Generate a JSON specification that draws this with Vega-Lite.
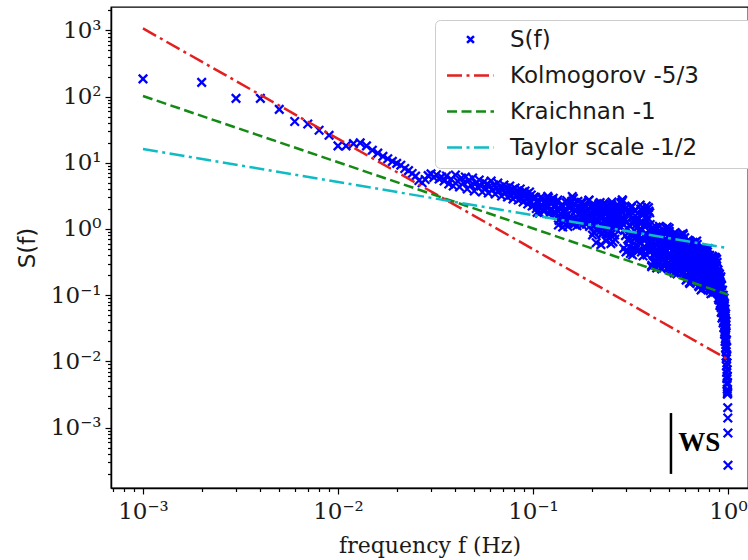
{
"$schema": "https://vega.github.io/schema/vega-lite/v6.json",
"width": 637, "height": 481,
"autosize": {"type": "none"},
"padding": {"left": 111, "top": 7, "right": 0, "bottom": 72},
"background": "white",
"config": {"view": {"stroke": "#000000", "strokeWidth": 1.3}},
"datasets": {
"spec": [
{"f":0.001,"s":185},{"f":0.002,"s":164},{"f":0.003,"s":94},{"f":0.004,"s":94},{"f":0.005,"s":64},{"f":0.006,"s":42},{"f":0.007,"s":38.5},{"f":0.008,"s":31},{"f":0.009,"s":26},{"f":0.010,"s":18},
{"f":0.011,"s":18},{"f":0.012,"s":19.5},{"f":0.013,"s":20},{"f":0.014,"s":18},{"f":0.015,"s":15.5},{"f":0.016,"s":14},{"f":0.017,"s":12.5},{"f":0.018,"s":11.5},{"f":0.019,"s":10.5},{"f":0.020,"s":9.8},
{"f":0.021,"s":9.2},{"f":0.022,"s":8.2},{"f":0.023,"s":7.6},{"f":0.024,"s":6.9},{"f":0.025,"s":6.3},{"f":0.026,"s":5.4},{"f":0.027,"s":5.0},{"f":0.028,"s":5.6},{"f":0.029,"s":6.4},{"f":0.030,"s":6.8},
{"f":0.031,"s":6.0},{"f":0.032,"s":6.6},{"f":0.033,"s":5.7},{"f":0.034,"s":6.1},{"f":0.035,"s":5.3},{"f":0.036,"s":6.31},{"f":0.037,"s":4.78},{"f":0.038,"s":5.69},{"f":0.039,"s":4.46},{"f":0.040,"s":6.54},
{"f":0.041,"s":5.31},{"f":0.042,"s":4.31},{"f":0.043,"s":5.89},{"f":0.044,"s":4.95},{"f":0.045,"s":6.10},{"f":0.046,"s":4.02},{"f":0.047,"s":5.50},{"f":0.048,"s":4.62},{"f":0.049,"s":5.89},{"f":0.050,"s":3.75},
{"f":0.051,"s":4.95},{"f":0.052,"s":4.31},{"f":0.053,"s":5.50},{"f":0.054,"s":4.46},{"f":0.055,"s":3.62},{"f":0.056,"s":5.13},{"f":0.057,"s":4.16},{"f":0.058,"s":4.78},{"f":0.059,"s":3.50},{"f":0.060,"s":4.46},
{"f":0.061,"s":5.31},{"f":0.062,"s":3.88},{"f":0.063,"s":4.62},{"f":0.064,"s":3.38},{"f":0.065,"s":4.16},{"f":0.066,"s":4.95},{"f":0.067,"s":3.75},{"f":0.068,"s":4.31},{"f":0.069,"s":3.15},{"f":0.070,"s":4.02},
{"f":0.071,"s":4.62},{"f":0.072,"s":3.50},{"f":0.073,"s":4.16},{"f":0.074,"s":3.04},{"f":0.075,"s":3.75},{"f":0.076,"s":4.46},{"f":0.077,"s":3.26},{"f":0.078,"s":3.88},{"f":0.079,"s":2.84},{"f":0.080,"s":3.50},
{"f":0.081,"s":4.16},{"f":0.082,"s":3.15},{"f":0.083,"s":3.75},{"f":0.084,"s":2.74},{"f":0.085,"s":3.38},{"f":0.086,"s":4.02},{"f":0.087,"s":2.94},{"f":0.088,"s":3.50},{"f":0.089,"s":2.56},{"f":0.090,"s":3.15},
{"f":0.091,"s":3.75},{"f":0.092,"s":2.84},{"f":0.093,"s":3.38},{"f":0.094,"s":2.38},{"f":0.095,"s":3.04},{"f":0.096,"s":3.62},{"f":0.097,"s":2.65},{"f":0.098,"s":3.26},{"f":0.099,"s":2.22},{"f":0.100,"s":2.94},
{"f":0.102,"s":2.87},{"f":0.104,"s":2.04},{"f":0.106,"s":2.45},{"f":0.108,"s":1.74},{"f":0.110,"s":3.05},{"f":0.112,"s":2.24},{"f":0.114,"s":1.86},{"f":0.116,"s":2.61},{"f":0.118,"s":2.10},{"f":0.120,"s":2.96},
{"f":0.122,"s":1.92},{"f":0.124,"s":2.38},{"f":0.126,"s":2.70},{"f":0.128,"s":1.80},{"f":0.130,"s":2.17},
{"f":0.101,"s":2.31},{"f":0.103,"s":3.00},{"f":0.105,"s":1.78},{"f":0.107,"s":2.56},{"f":0.109,"s":2.08},{"f":0.111,"s":2.82},{"f":0.113,"s":1.89},{"f":0.115,"s":2.42},{"f":0.117,"s":2.19},{"f":0.119,"s":3.11},
{"f":0.121,"s":1.71},{"f":0.123,"s":2.70},{"f":0.125,"s":1.97},{"f":0.127,"s":2.92},{"f":0.129,"s":1.82},
{"f":0.132,"s":1.97},{"f":0.134,"s":2.74},{"f":0.136,"s":1.35},{"f":0.138,"s":1.71},{"f":0.140,"s":2.27},{"f":0.142,"s":1.07},{"f":0.144,"s":1.88},{"f":0.146,"s":1.42},{"f":0.148,"s":2.49},{"f":0.150,"s":1.63},
{"f":0.152,"s":1.23},{"f":0.154,"s":2.07},{"f":0.156,"s":1.56},{"f":0.158,"s":2.61},{"f":0.159,"s":3.1},{"f":0.160,"s":1.18},{"f":0.161,"s":2.9},{"f":0.162,"s":2.38},{"f":0.164,"s":1.42},{"f":0.166,"s":1.88},{"f":0.168,"s":1.12},{"f":0.170,"s":2.61},
{"f":0.172,"s":1.63},{"f":0.174,"s":1.23},{"f":0.176,"s":2.07},{"f":0.178,"s":1.49},{"f":0.180,"s":2.49},{"f":0.182,"s":1.29},{"f":0.184,"s":1.79},{"f":0.186,"s":2.17},{"f":0.188,"s":1.18},{"f":0.190,"s":1.56},
{"f":0.192,"s":1.97},{"f":0.194,"s":2.74},{"f":0.196,"s":1.35},{"f":0.198,"s":1.71},{"f":0.200,"s":2.27},
{"f":0.131,"s":1.71},{"f":0.133,"s":2.54},{"f":0.135,"s":1.15},{"f":0.137,"s":2.01},{"f":0.139,"s":1.46},{"f":0.141,"s":2.31},{"f":0.143,"s":1.27},{"f":0.145,"s":1.85},{"f":0.147,"s":1.59},{"f":0.149,"s":2.69},
{"f":0.151,"s":1.09},{"f":0.153,"s":2.17},{"f":0.155,"s":1.35},{"f":0.157,"s":2.45},{"f":0.163,"s":1.20},{"f":0.165,"s":1.92},{"f":0.167,"s":1.53},{"f":0.169,"s":2.10},{"f":0.171,"s":1.39},{"f":0.173,"s":1.74},
{"f":0.175,"s":1.71},{"f":0.177,"s":2.54},{"f":0.179,"s":1.15},{"f":0.181,"s":2.01},{"f":0.183,"s":1.46},{"f":0.185,"s":2.31},{"f":0.187,"s":1.27},{"f":0.189,"s":1.85},{"f":0.191,"s":1.59},{"f":0.193,"s":2.69},
{"f":0.195,"s":1.09},{"f":0.197,"s":2.17},{"f":0.199,"s":1.35},
{"f":0.202,"s":0.810},{"f":0.204,"s":1.62},{"f":0.206,"s":1.14},{"f":0.208,"s":2.28},{"f":0.210,"s":1.36},{"f":0.211,"s":0.62},{"f":0.212,"s":0.962},{"f":0.214,"s":1.81},{"f":0.216,"s":1.28},{"f":0.218,"s":2.42},{"f":0.220,"s":0.908},
{"f":0.222,"s":2.15},{"f":0.223,"s":0.58},{"f":0.224,"s":1.14},{"f":0.226,"s":1.62},{"f":0.228,"s":0.858},{"f":0.230,"s":2.42},{"f":0.232,"s":1.36},{"f":0.234,"s":0.962},{"f":0.236,"s":1.81},{"f":0.237,"s":0.66},{"f":0.238,"s":1.21},{"f":0.240,"s":2.28},
{"f":0.242,"s":1.02},{"f":0.244,"s":1.52},{"f":0.245,"s":0.74},{"f":0.246,"s":1.92},{"f":0.248,"s":0.908},{"f":0.250,"s":1.28},{"f":0.251,"s":0.60},{"f":0.252,"s":1.71},{"f":0.254,"s":2.56},{"f":0.256,"s":1.08},{"f":0.257,"s":0.64},{"f":0.258,"s":1.44},{"f":0.260,"s":2.03},
{"f":0.262,"s":0.810},{"f":0.263,"s":0.70},{"f":0.264,"s":1.62},{"f":0.266,"s":1.14},{"f":0.268,"s":2.28},{"f":0.270,"s":1.36},
{"f":0.201,"s":1.44},{"f":0.203,"s":2.33},{"f":0.205,"s":0.888},{"f":0.207,"s":1.75},{"f":0.209,"s":1.18},{"f":0.213,"s":2.08},{"f":0.215,"s":0.996},{"f":0.217,"s":1.58},{"f":0.219,"s":1.31},{"f":0.221,"s":2.50},
{"f":0.225,"s":0.829},{"f":0.227,"s":1.92},{"f":0.229,"s":1.08},{"f":0.231,"s":2.23},{"f":0.233,"s":0.929},{"f":0.235,"s":1.65},{"f":0.239,"s":1.25},{"f":0.241,"s":1.85},{"f":0.243,"s":1.12},{"f":0.247,"s":1.47},
{"f":0.249,"s":1.44},{"f":0.253,"s":2.33},{"f":0.255,"s":0.888},{"f":0.259,"s":1.75},{"f":0.261,"s":1.18},{"f":0.265,"s":2.08},{"f":0.267,"s":0.996},{"f":0.269,"s":1.58},
{"f":0.272,"s":1.9},{"f":0.274,"s":1.35},{"f":0.276,"s":2.2},{"f":0.278,"s":1.1},{"f":0.280,"s":1.6},{"f":0.282,"s":2.45},{"f":0.284,"s":1.25},{"f":0.286,"s":1.8},{"f":0.288,"s":2.7},{"f":0.290,"s":1.45},
{"f":0.271,"s":2.3},{"f":0.273,"s":1.7},{"f":0.275,"s":1.15},{"f":0.277,"s":2.0},{"f":0.279,"s":1.4},{"f":0.281,"s":1.05},{"f":0.283,"s":1.95},{"f":0.285,"s":2.55},{"f":0.287,"s":2.75},{"f":0.289,"s":1.2},
{"f":0.292,"s":0.510},{"f":0.295,"s":1.35},{"f":0.298,"s":0.794},{"f":0.301,"s":2.10},{"f":0.304,"s":0.467},{"f":0.307,"s":1.76},{"f":0.310,"s":0.665},{"f":0.313,"s":1.13},{"f":0.316,"s":0.427},{"f":0.319,"s":2.10},
{"f":0.322,"s":0.868},{"f":0.325,"s":0.510},{"f":0.328,"s":1.35},{"f":0.331,"s":0.726},{"f":0.334,"s":1.93},{"f":0.337,"s":0.557},{"f":0.340,"s":1.04},{"f":0.343,"s":1.48},{"f":0.346,"s":0.467},{"f":0.349,"s":0.794},
{"f":0.352,"s":1.24},{"f":0.355,"s":2.30},{"f":0.358,"s":0.609},{"f":0.361,"s":0.948},{"f":0.364,"s":1.61},{"f":0.367,"s":0.391},{"f":0.370,"s":1.13},{"f":0.373,"s":0.665},{"f":0.376,"s":1.93},{"f":0.379,"s":0.868},
{"f":0.382,"s":0.510},{"f":0.385,"s":1.35},{"f":0.388,"s":0.794},{"f":0.391,"s":2.10},{"f":0.394,"s":0.467},{"f":0.397,"s":1.76},{"f":0.400,"s":0.665},
{"f":0.294,"s":0.948},{"f":0.297,"s":2.00},{"f":0.300,"s":0.450},{"f":0.303,"s":1.28},{"f":0.306,"s":0.701},{"f":0.309,"s":1.67},{"f":0.312,"s":0.538},{"f":0.315,"s":1.09},{"f":0.318,"s":0.822},{"f":0.321,"s":2.22},
{"f":0.324,"s":0.405},{"f":0.327,"s":1.48},{"f":0.330,"s":0.609},{"f":0.333,"s":1.86},{"f":0.336,"s":0.483},{"f":0.339,"s":1.17},{"f":0.342,"s":0.766},{"f":0.345,"s":1.40},{"f":0.348,"s":0.642},{"f":0.351,"s":0.982},
{"f":0.354,"s":0.948},{"f":0.357,"s":2.00},{"f":0.360,"s":0.450},{"f":0.363,"s":1.28},{"f":0.366,"s":0.701},{"f":0.369,"s":1.67},{"f":0.372,"s":0.538},{"f":0.375,"s":1.09},{"f":0.378,"s":0.822},{"f":0.381,"s":2.22},
{"f":0.384,"s":0.405},{"f":0.387,"s":1.48},{"f":0.390,"s":0.609},{"f":0.393,"s":1.86},{"f":0.396,"s":0.483},{"f":0.399,"s":1.17},
{"f":0.403,"s":0.608},{"f":0.406,"s":0.270},{"f":0.409,"s":1.02},{"f":0.412,"s":0.487},{"f":0.415,"s":0.312},{"f":0.418,"s":0.705},{"f":0.421,"s":0.420},{"f":0.424,"s":0.948},{"f":0.427,"s":0.336},{"f":0.430,"s":0.565},
{"f":0.433,"s":0.760},{"f":0.436,"s":0.290},{"f":0.439,"s":0.452},{"f":0.442,"s":0.655},{"f":0.445,"s":1.10},{"f":0.448,"s":0.362},{"f":0.451,"s":0.525},{"f":0.454,"s":0.818},{"f":0.457,"s":0.250},{"f":0.460,"s":0.608},
{"f":0.463,"s":0.390},{"f":0.466,"s":0.948},{"f":0.469,"s":0.487},{"f":0.472,"s":0.312},{"f":0.475,"s":0.705},{"f":0.478,"s":0.452},{"f":0.481,"s":1.02},{"f":0.484,"s":0.290},{"f":0.487,"s":0.881},{"f":0.490,"s":0.390},
{"f":0.493,"s":0.608},{"f":0.496,"s":0.270},{"f":0.499,"s":1.02},
{"f":0.401,"s":0.525},{"f":0.404,"s":0.977},{"f":0.407,"s":0.282},{"f":0.410,"s":0.675},{"f":0.413,"s":0.408},{"f":0.416,"s":0.842},{"f":0.419,"s":0.327},{"f":0.422,"s":0.591},{"f":0.425,"s":0.466},{"f":0.428,"s":1.07},
{"f":0.431,"s":0.258},{"f":0.434,"s":0.760},{"f":0.437,"s":0.362},{"f":0.440,"s":0.921},{"f":0.443,"s":0.299},{"f":0.446,"s":0.627},{"f":0.449,"s":0.439},{"f":0.452,"s":0.727},{"f":0.455,"s":0.379},{"f":0.458,"s":0.540},
{"f":0.461,"s":0.525},{"f":0.464,"s":0.977},{"f":0.467,"s":0.282},{"f":0.470,"s":0.675},{"f":0.473,"s":0.408},{"f":0.476,"s":0.842},{"f":0.479,"s":0.327},{"f":0.482,"s":0.591},{"f":0.485,"s":0.466},{"f":0.488,"s":1.07},
{"f":0.491,"s":0.258},{"f":0.494,"s":0.760},{"f":0.497,"s":0.362},{"f":0.500,"s":0.921},
{"f":0.503,"s":0.400},{"f":0.506,"s":0.260},{"f":0.509,"s":0.572},{"f":0.512,"s":0.347},{"f":0.515,"s":0.762},{"f":0.518,"s":0.279},{"f":0.521,"s":0.462},{"f":0.524,"s":0.615},{"f":0.527,"s":0.242},{"f":0.530,"s":0.372},
{"f":0.533,"s":0.533},{"f":0.536,"s":0.880},{"f":0.539,"s":0.300},{"f":0.542,"s":0.430},{"f":0.545,"s":0.661},{"f":0.548,"s":0.210},{"f":0.551,"s":0.496},{"f":0.554,"s":0.323},{"f":0.557,"s":0.762},{"f":0.560,"s":0.400},
{"f":0.563,"s":0.260},{"f":0.566,"s":0.572},{"f":0.569,"s":0.372},{"f":0.572,"s":0.819},{"f":0.575,"s":0.242},{"f":0.578,"s":0.709},{"f":0.581,"s":0.323},{"f":0.584,"s":0.496},{"f":0.587,"s":0.225},{"f":0.590,"s":0.819},
{"f":0.593,"s":0.400},{"f":0.596,"s":0.260},{"f":0.599,"s":0.572},
{"f":0.501,"s":0.430},{"f":0.504,"s":0.785},{"f":0.507,"s":0.236},{"f":0.510,"s":0.549},{"f":0.513,"s":0.337},{"f":0.516,"s":0.680},{"f":0.519,"s":0.272},{"f":0.522,"s":0.482},{"f":0.525,"s":0.383},{"f":0.528,"s":0.855},
{"f":0.531,"s":0.216},{"f":0.534,"s":0.615},{"f":0.537,"s":0.300},{"f":0.540,"s":0.741},{"f":0.543,"s":0.250},{"f":0.546,"s":0.510},{"f":0.549,"s":0.362},{"f":0.552,"s":0.589},{"f":0.555,"s":0.314},{"f":0.558,"s":0.442},
{"f":0.561,"s":0.430},{"f":0.564,"s":0.785},{"f":0.567,"s":0.236},{"f":0.570,"s":0.549},{"f":0.573,"s":0.337},{"f":0.576,"s":0.680},{"f":0.579,"s":0.272},{"f":0.582,"s":0.482},{"f":0.585,"s":0.383},{"f":0.588,"s":0.855},
{"f":0.591,"s":0.216},{"f":0.594,"s":0.615},{"f":0.597,"s":0.300},{"f":0.600,"s":0.741},
{"f":0.602,"s":0.255},{"f":0.605,"s":0.585},{"f":0.608,"s":0.203},{"f":0.611,"s":0.345},{"f":0.614,"s":0.466},{"f":0.617,"s":0.175},{"f":0.620,"s":0.275},{"f":0.623,"s":0.401},{"f":0.626,"s":0.680},{"f":0.629,"s":0.219},
{"f":0.632,"s":0.320},{"f":0.635,"s":0.503},{"f":0.638,"s":0.150},{"f":0.641,"s":0.372},{"f":0.644,"s":0.236},{"f":0.647,"s":0.585},{"f":0.650,"s":0.296},{"f":0.653,"s":0.189},{"f":0.656,"s":0.432},{"f":0.659,"s":0.275},
{"f":0.662,"s":0.630},{"f":0.665,"s":0.175},{"f":0.668,"s":0.542},{"f":0.671,"s":0.236},{"f":0.674,"s":0.372},{"f":0.677,"s":0.162},{"f":0.680,"s":0.630},{"f":0.683,"s":0.296},{"f":0.686,"s":0.189},{"f":0.689,"s":0.432},
{"f":0.692,"s":0.255},{"f":0.695,"s":0.585},{"f":0.698,"s":0.203},{"f":0.701,"s":0.345},
{"f":0.604,"s":0.320},{"f":0.607,"s":0.603},{"f":0.610,"s":0.169},{"f":0.613,"s":0.413},{"f":0.616,"s":0.247},{"f":0.619,"s":0.518},{"f":0.622,"s":0.197},{"f":0.625,"s":0.360},{"f":0.628,"s":0.283},{"f":0.631,"s":0.660},
{"f":0.634,"s":0.155},{"f":0.637,"s":0.466},{"f":0.640,"s":0.219},{"f":0.643,"s":0.567},{"f":0.646,"s":0.180},{"f":0.649,"s":0.383},{"f":0.652,"s":0.267},{"f":0.655,"s":0.445},{"f":0.658,"s":0.229},{"f":0.661,"s":0.329},
{"f":0.664,"s":0.320},{"f":0.667,"s":0.603},{"f":0.670,"s":0.169},{"f":0.673,"s":0.413},{"f":0.676,"s":0.247},{"f":0.679,"s":0.518},{"f":0.682,"s":0.197},{"f":0.685,"s":0.360},{"f":0.688,"s":0.283},{"f":0.691,"s":0.660},
{"f":0.694,"s":0.155},{"f":0.697,"s":0.466},{"f":0.700,"s":0.219},
{"f":0.704,"s":0.360},{"f":0.707,"s":0.139},{"f":0.710,"s":0.216},{"f":0.713,"s":0.311},{"f":0.716,"s":0.520},{"f":0.719,"s":0.173},{"f":0.722,"s":0.250},{"f":0.725,"s":0.388},{"f":0.728,"s":0.120},{"f":0.731,"s":0.289},
{"f":0.734,"s":0.186},{"f":0.737,"s":0.449},{"f":0.740,"s":0.232},{"f":0.743,"s":0.149},{"f":0.746,"s":0.335},{"f":0.749,"s":0.216},{"f":0.752,"s":0.483},{"f":0.755,"s":0.139},{"f":0.758,"s":0.417},{"f":0.761,"s":0.186},
{"f":0.764,"s":0.289},{"f":0.767,"s":0.129},{"f":0.770,"s":0.483},{"f":0.773,"s":0.232},{"f":0.776,"s":0.149},{"f":0.779,"s":0.335},{"f":0.782,"s":0.200},{"f":0.785,"s":0.449},{"f":0.788,"s":0.161},{"f":0.791,"s":0.269},
{"f":0.794,"s":0.360},{"f":0.797,"s":0.139},{"f":0.800,"s":0.216},
{"f":0.705,"s":0.250},{"f":0.708,"s":0.462},{"f":0.711,"s":0.135},{"f":0.714,"s":0.321},{"f":0.717,"s":0.195},{"f":0.720,"s":0.399},{"f":0.723,"s":0.156},{"f":0.726,"s":0.281},{"f":0.729,"s":0.222},{"f":0.732,"s":0.505},
{"f":0.735,"s":0.124},{"f":0.738,"s":0.360},{"f":0.741,"s":0.173},{"f":0.744,"s":0.436},{"f":0.747,"s":0.143},{"f":0.750,"s":0.298},{"f":0.753,"s":0.210},{"f":0.756,"s":0.345},{"f":0.759,"s":0.181},{"f":0.762,"s":0.257},
{"f":0.765,"s":0.250},{"f":0.768,"s":0.462},{"f":0.771,"s":0.135},{"f":0.774,"s":0.321},{"f":0.777,"s":0.195},{"f":0.780,"s":0.399},{"f":0.783,"s":0.156},{"f":0.786,"s":0.281},{"f":0.789,"s":0.222},{"f":0.792,"s":0.505},
{"f":0.795,"s":0.124},{"f":0.798,"s":0.360},
{"f":0.803,"s":0.250},{"f":0.806,"s":0.400},{"f":0.809,"s":0.147},{"f":0.812,"s":0.205},{"f":0.815,"s":0.306},{"f":0.818,"s":0.105},{"f":0.821,"s":0.234},{"f":0.824,"s":0.157},{"f":0.827,"s":0.350},{"f":0.830,"s":0.192},
{"f":0.833,"s":0.128},{"f":0.836,"s":0.268},{"f":0.839,"s":0.179},{"f":0.842,"s":0.374},{"f":0.845,"s":0.120},{"f":0.848,"s":0.327},{"f":0.851,"s":0.157},{"f":0.854,"s":0.234},{"f":0.857,"s":0.112},{"f":0.860,"s":0.374},
{"f":0.863,"s":0.192},{"f":0.866,"s":0.128},{"f":0.869,"s":0.268},{"f":0.872,"s":0.168},{"f":0.875,"s":0.350},{"f":0.878,"s":0.137},{"f":0.881,"s":0.219},
{"f":0.804,"s":0.205},{"f":0.807,"s":0.359},{"f":0.810,"s":0.117},{"f":0.813,"s":0.257},{"f":0.816,"s":0.163},{"f":0.819,"s":0.314},{"f":0.822,"s":0.134},{"f":0.825,"s":0.228},{"f":0.828,"s":0.184},{"f":0.831,"s":0.389},
{"f":0.834,"s":0.108},{"f":0.837,"s":0.286},{"f":0.840,"s":0.147},{"f":0.843,"s":0.341},{"f":0.846,"s":0.123},{"f":0.849,"s":0.241},{"f":0.852,"s":0.175},{"f":0.855,"s":0.275},{"f":0.858,"s":0.153},{"f":0.861,"s":0.210},
{"f":0.864,"s":0.205},{"f":0.867,"s":0.359},{"f":0.870,"s":0.117},{"f":0.873,"s":0.257},{"f":0.876,"s":0.163},{"f":0.879,"s":0.314},
{"f":0.883,"s":0.20},{"f":0.886,"s":0.15},{"f":0.889,"s":0.24},{"f":0.892,"s":0.11},{"f":0.895,"s":0.18},{"f":0.898,"s":0.085},{"f":0.901,"s":0.13},{"f":0.904,"s":0.21},{"f":0.907,"s":0.095},{"f":0.910,"s":0.16},
{"f":0.913,"s":0.075},{"f":0.916,"s":0.12},{"f":0.919,"s":0.19},{"f":0.922,"s":0.065},{"f":0.925,"s":0.10},{"f":0.928,"s":0.14},{"f":0.931,"s":0.055},{"f":0.934,"s":0.085},{"f":0.937,"s":0.12},{"f":0.940,"s":0.047},
{"f":0.943,"s":0.07},{"f":0.946,"s":0.10},{"f":0.949,"s":0.04},{"f":0.952,"s":0.062},{"f":0.955,"s":0.09},{"f":0.957,"s":0.033},{"f":0.959,"s":0.05},{"f":0.961,"s":0.075},{"f":0.963,"s":0.028},{"f":0.965,"s":0.042},
{"f":0.884,"s":0.17},{"f":0.887,"s":0.12},{"f":0.890,"s":0.22},{"f":0.893,"s":0.09},{"f":0.896,"s":0.14},{"f":0.899,"s":0.2},{"f":0.902,"s":0.1},{"f":0.905,"s":0.16},{"f":0.908,"s":0.07},{"f":0.911,"s":0.12},
{"f":0.914,"s":0.18},{"f":0.917,"s":0.085},{"f":0.920,"s":0.14},{"f":0.923,"s":0.055},{"f":0.926,"s":0.08},{"f":0.929,"s":0.115},{"f":0.932,"s":0.045},{"f":0.935,"s":0.1},{"f":0.938,"s":0.06},{"f":0.941,"s":0.085},
{"f":0.944,"s":0.038},{"f":0.947,"s":0.055},{"f":0.950,"s":0.08},{"f":0.953,"s":0.032},{"f":0.956,"s":0.047},{"f":0.958,"s":0.068},{"f":0.960,"s":0.026},{"f":0.962,"s":0.038},{"f":0.964,"s":0.055},{"f":0.966,"s":0.02},
{"f":0.968,"s":0.03},{"f":0.970,"s":0.045},{"f":0.972,"s":0.016},{"f":0.974,"s":0.025},{"f":0.976,"s":0.036},{"f":0.978,"s":0.012},
{"f":0.967,"s":0.062},{"f":0.969,"s":0.022},{"f":0.971,"s":0.034},{"f":0.973,"s":0.052},{"f":0.975,"s":0.018},{"f":0.977,"s":0.027},{"f":0.979,"s":0.014},{"f":0.980,"s":0.04},{"f":0.981,"s":0.011},{"f":0.982,"s":0.021},
{"f":0.983,"s":0.0085},{"f":0.984,"s":0.016},{"f":0.985,"s":0.0068},{"f":0.986,"s":0.012},{"f":0.987,"s":0.0055},{"f":0.988,"s":0.0095},{"f":0.989,"s":0.0045},{"f":0.990,"s":0.0075},{"f":0.991,"s":0.0038},{"f":0.992,"s":0.006},
{"f":0.993,"s":0.0032},{"f":0.994,"s":0.0048},{"f":0.995,"s":0.0035},{"f":0.996,"s":0.0033},{"f":0.997,"s":0.0020},{"f":0.998,"s":0.0014},{"f":0.999,"s":0.00083},{"f":1.000,"s":0.00027}
],
"lines": [
{"series":"Kolmogorov -5/3","f":0.001,"s":1070},{"series":"Kolmogorov -5/3","f":1,"s":0.0107},
{"series":"Kraichnan -1","f":0.001,"s":102},{"series":"Kraichnan -1","f":1,"s":0.102},
{"series":"Taylor scale -1/2","f":0.001,"s":16.2},{"series":"Taylor scale -1/2","f":1,"s":0.512}
]
},
"encoding": {
"x": {"field": "f", "type": "quantitative",
 "scale": {"type": "log", "domain": [0.0006855, 1.2665], "nice": false, "zero": false},
 "axis": {"title": "frequency f (Hz)", "titleFont": "DejaVu Serif", "titleFontSize": 22, "titleFontWeight": "normal", "titleColor": "#1a1a1a", "titleY": 64, "titleBaseline": "alphabetic",
  "values": [0.0007,0.0008,0.0009,0.001,0.002,0.003,0.004,0.005,0.006,0.007,0.008,0.009,0.01,0.02,0.03,0.04,0.05,0.06,0.07,0.08,0.09,0.1,0.2,0.3,0.4,0.5,0.6,0.7,0.8,0.9,1],
  "labelExpr": "abs(log(datum.value)/LN10 - round(log(datum.value)/LN10)) < 0.01 ? '10' + (round(log(datum.value)/LN10) == -3 ? '⁻³' : round(log(datum.value)/LN10) == -2 ? '⁻²' : round(log(datum.value)/LN10) == -1 ? '⁻¹' : '⁰') : ''",
  "labelFont": "DejaVu Serif", "labelFontSize": 23, "labelColor": "#1a1a1a", "labelOverlap": false, "labelFlush": false, "labelBound": false, "labelPadding": 6,
  "tickSize": {"condition": {"test": "abs(log(datum.value)/LN10 - round(log(datum.value)/LN10)) < 0.01", "value": 6}, "value": 3.5},
  "tickWidth": 1.2, "tickColor": "#000000", "domainColor": "#000000", "domainWidth": 1.5, "grid": false}},
"y": {"field": "s", "type": "quantitative",
 "scale": {"type": "log", "domain": [0.0001225, 2254], "nice": false, "zero": false},
 "axis": {"title": "S(f)", "titleFont": "DejaVu Sans", "titleFontSize": 23, "titleFontWeight": "normal", "titleColor": "#1a1a1a", "titleX": -84, "titleBaseline": "middle",
  "values": [0.0002,0.0003,0.0004,0.0005,0.0006,0.0007,0.0008,0.0009,0.001,0.002,0.003,0.004,0.005,0.006,0.007,0.008,0.009,0.01,0.02,0.03,0.04,0.05,0.06,0.07,0.08,0.09,0.1,0.2,0.3,0.4,0.5,0.6,0.7,0.8,0.9,1,2,3,4,5,6,7,8,9,10,20,30,40,50,60,70,80,90,100,200,300,400,500,600,700,800,900,1000,2000],
  "labelExpr": "abs(log(datum.value)/LN10 - round(log(datum.value)/LN10)) < 0.01 ? '10' + (round(log(datum.value)/LN10) == -3 ? '⁻³' : round(log(datum.value)/LN10) == -2 ? '⁻²' : round(log(datum.value)/LN10) == -1 ? '⁻¹' : round(log(datum.value)/LN10) == 0 ? '⁰' : round(log(datum.value)/LN10) == 1 ? '¹' : round(log(datum.value)/LN10) == 2 ? '²' : '³') : ''",
  "labelFont": "DejaVu Serif", "labelFontSize": 23, "labelColor": "#1a1a1a", "labelOverlap": false, "labelBound": false, "labelFlush": false, "labelPadding": 4,
  "tickSize": {"condition": {"test": "abs(log(datum.value)/LN10 - round(log(datum.value)/LN10)) < 0.01", "value": 6}, "value": 3.5},
  "tickWidth": 1.2, "tickColor": "#000000", "domainColor": "#000000", "domainWidth": 1.5, "grid": false}}
},
"layer": [
{"data": {"name": "spec"},
 "mark": {"type": "point", "shape": "M-1,-1L1,1M1,-1L-1,1", "filled": false, "size": 72, "strokeWidth": 2.3, "color": "#0000ff", "opacity": 1}},
{"data": {"name": "lines"},
 "mark": {"type": "line", "strokeWidth": 2.5},
 "encoding": {
  "color": {"field": "series", "type": "nominal",
   "scale": {"domain": ["S(f)", "Kolmogorov -5/3", "Kraichnan -1", "Taylor scale -1/2"], "range": ["#0000ff", "#e41f1f", "#138a13", "#10bcc4"]},
   "legend": {"title": null, "orient": "none", "legendX": 324, "legendY": 13, "padding": 8, "fillColor": "white", "strokeColor": "#cccccc", "cornerRadius": 5,
    "labelFont": "DejaVu Sans", "labelFontSize": 23, "labelColor": "#1a1a1a", "labelLimit": 400, "symbolSize": 245, "symbolStrokeWidth": 2.5, "symbolOffset": 16, "labelOffset": 28, "rowPadding": 12,
    "encode": {"symbols": {"update": {"strokeCap": {"value": "butt"}, "shape": {"signal": "datum.value === 'S(f)' ? 'M-0.44,-0.44L0.44,0.44M0.44,-0.44L-0.44,0.44M34.6,0L34.6,0' : 'M-3,0L3,0M34.6,0L34.6,0'"}}}}}},
  "strokeDash": {"field": "series", "type": "nominal",
   "scale": {"domain": ["S(f)", "Kolmogorov -5/3", "Kraichnan -1", "Taylor scale -1/2"], "range": [[1,0], [15,4.5,3,4.5], [10,4.5], [15,4.5,3,4.5]]},
   "legend": {"title": null, "orient": "none", "legendX": 324, "legendY": 13, "padding": 8, "fillColor": "white", "strokeColor": "#cccccc", "cornerRadius": 5,
    "labelFont": "DejaVu Sans", "labelFontSize": 23, "labelColor": "#1a1a1a", "labelLimit": 400, "symbolSize": 245, "symbolStrokeWidth": 2.5, "symbolOffset": 16, "labelOffset": 28, "rowPadding": 12,
    "encode": {"symbols": {"update": {"strokeCap": {"value": "butt"}, "shape": {"signal": "datum.value === 'S(f)' ? 'M-0.44,-0.44L0.44,0.44M0.44,-0.44L-0.44,0.44M34.6,0L34.6,0' : 'M-3,0L3,0M34.6,0L34.6,0'"}}}}}}
 }},
{"data": {"values": [{"f": 0.51, "s": 0.00166, "s2": 0.0002}]},
 "mark": {"type": "rule", "color": "#000000", "strokeWidth": 2.5},
 "encoding": {"y2": {"field": "s2"}}},
{"data": {"values": [{"f": 0.555, "s": 0.000585, "label": "WS"}]},
 "mark": {"type": "text", "align": "left", "baseline": "middle", "font": "Liberation Serif", "fontWeight": "bold", "fontSize": 27, "color": "#000000"},
 "encoding": {"text": {"field": "label"}}}
]
}
